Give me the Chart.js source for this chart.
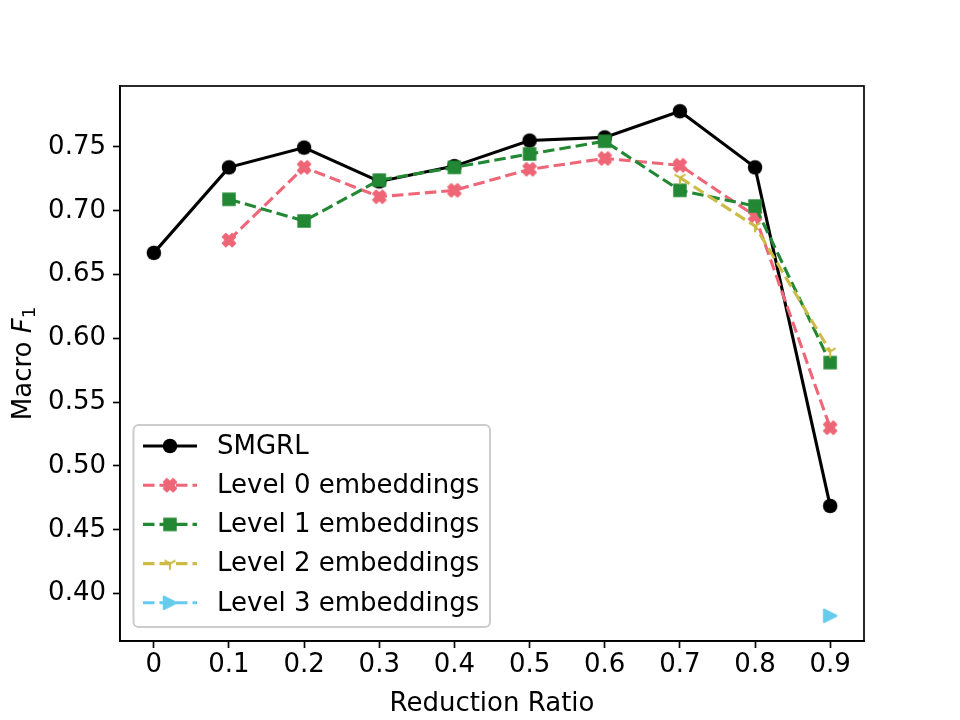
<!DOCTYPE html>
<html>
<head>
  <title>Macro F1 vs Reduction Ratio</title>
  <script src="https://cdn.jsdelivr.net/npm/chart.js"></script>
  <style>
    html, body { margin: 0; padding: 0; background: #fff; }
  </style>
</head>
<body>
  <canvas id="f1Chart" width="960" height="720"></canvas>

  <script>
    // values
    const ratios = [0, 0.1, 0.2, 0.3, 0.4, 0.5, 0.6, 0.7, 0.8, 0.9];
    const smgrl  = [0.667, 0.734, 0.7495, 0.723, 0.735, 0.755, 0.7575, 0.778, 0.734, 0.4687];
    const level0 = [null, 0.677, 0.734, 0.711, 0.716, 0.7325, 0.741, 0.7356, 0.696, 0.530];
    const level1 = [null, 0.709, 0.692, 0.724, 0.734, 0.7445, 0.7545, 0.716, 0.7037, 0.581];
    const level2 = [null, null, null, null, null, null, null, 0.726, 0.688, 0.5898];
    const level3 = [null, null, null, null, null, null, null, null, null, 0.3826];

    const seriesNames = ['SMGRL', 'Level 0 embeddings', 'Level 1 embeddings', 'Level 2 embeddings', 'Level 3 embeddings'];
    const xTicks = [0, 0.1, 0.2, 0.3, 0.4, 0.5, 0.6, 0.7, 0.8, 0.9];
    const yTicks = [0.40, 0.45, 0.50, 0.55, 0.60, 0.65, 0.70, 0.75];

    const FONT = '"DejaVu Sans", sans-serif';
    const FS = 26;
    const colors = ['#000000', '#EE6677', '#228833', '#CCBB44', '#66CCEE'];

    // matplotlib style 5% margins
    const allY = [].concat(smgrl, level0, level1, level2, level3).filter(v => v !== null);
    const yLo = Math.min(...allY), yHi = Math.max(...allY);
    const yPad = (yHi - yLo) * 0.05;
    const xPad = (ratios[ratios.length - 1] - ratios[0]) * 0.05;

    // marker sprites
    function sprite(draw) {
      const c = document.createElement('canvas');
      c.width = 22; c.height = 22;
      const g = c.getContext('2d');
      g.translate(11, 11);
      draw(g);
      return c;
    }
    const ms = 12.5;
    const markers = [
      sprite(g => { g.fillStyle = colors[0]; g.beginPath(); g.arc(0, 0, ms / 2 + 1, 0, Math.PI * 2); g.fill(); }),
      sprite(g => {
        const pts = [[-1,-2],[0,-1],[1,-2],[2,-1],[1,0],[2,1],[1,2],[0,1],[-1,2],[-2,1],[-1,0],[-2,-1]];
        g.beginPath();
        pts.forEach((p, i) => { const x = p[0] / 4 * ms, y = p[1] / 4 * ms; i ? g.lineTo(x, y) : g.moveTo(x, y); });
        g.closePath();
        g.fillStyle = colors[1]; g.strokeStyle = colors[1]; g.lineWidth = 2; g.lineJoin = 'round';
        g.fill(); g.stroke();
      }),
      sprite(g => { g.fillStyle = colors[2]; g.fillRect(-6.75, -6.75, 13.5, 13.5); }),
      sprite(g => {
        const r = ms / 2;
        g.strokeStyle = colors[3]; g.lineWidth = 2.1;
        g.beginPath();
        g.moveTo(0, 0); g.lineTo(0, r);
        g.moveTo(0, 0); g.lineTo(0.866 * r, -0.5 * r);
        g.moveTo(0, 0); g.lineTo(-0.866 * r, -0.5 * r);
        g.stroke();
      }),
      sprite(g => {
        const r = ms / 2;
        g.beginPath();
        g.moveTo(r, 0); g.lineTo(-r, -r); g.lineTo(-r, r); g.closePath();
        g.fillStyle = colors[4]; g.strokeStyle = colors[4]; g.lineWidth = 2; g.lineJoin = 'round';
        g.fill(); g.stroke();
      })
    ];

    const dash = [11.5, 5];
    const values = [smgrl, level0, level1, level2, level3];
    const datasets = values.map((vals, i) => ({
      label: seriesNames[i],
      data: ratios.map((r, j) => ({ x: r, y: vals[j] })),
      borderColor: colors[i],
      backgroundColor: colors[i],
      borderWidth: 3.1,
      borderDash: i === 0 ? [] : dash,
      pointStyle: markers[i],
      pointRadius: 7,
      pointHoverRadius: 7,
      tension: 0,
      spanGaps: false,
      order: 5 - i
    }));

    // frame, y label and legend drawn by hand to look like matplotlib
    const extras = {
      id: 'extras',
      afterDraw(chart) {
        const ctx = chart.ctx;
        const a = chart.chartArea;
        ctx.save();
        ctx.strokeStyle = '#000';
        ctx.lineWidth = 1.67;
        ctx.strokeRect(a.left, a.top, a.right - a.left, a.bottom - a.top);

        // y axis title: Macro F_1
        ctx.translate(24, (a.top + a.bottom) / 2);
        ctx.rotate(-Math.PI / 2);
        ctx.fillStyle = '#000';
        ctx.textBaseline = 'middle';
        ctx.font = FS + 'px ' + FONT;
        const w1 = ctx.measureText('Macro ').width;
        ctx.font = 'italic ' + FS + 'px ' + FONT;
        const w2 = ctx.measureText('F').width;
        ctx.font = (FS * 0.7) + 'px ' + FONT;
        const w3 = ctx.measureText('1').width;
        let x = -(w1 + w2 + w3) / 2;
        ctx.font = FS + 'px ' + FONT;
        ctx.fillText('Macro ', x, 0); x += w1;
        ctx.font = 'italic ' + FS + 'px ' + FONT;
        ctx.fillText('F', x, 0); x += w2;
        ctx.font = (FS * 0.7) + 'px ' + FONT;
        ctx.fillText('1', x, 6);
        ctx.restore();

        // legend
        ctx.save();
        const bx = 133.5, by = 425, bw = 356.5, bh = 202;
        ctx.beginPath();
        ctx.roundRect(bx, by, bw, bh, 5);
        ctx.fillStyle = 'rgba(255,255,255,0.8)';
        ctx.fill();
        ctx.strokeStyle = '#cccccc';
        ctx.lineWidth = 2;
        ctx.stroke();
        ctx.font = FS + 'px ' + FONT;
        ctx.textBaseline = 'middle';
        seriesNames.forEach((name, i) => {
          const y = 446 + i * 39.2;
          ctx.beginPath();
          ctx.setLineDash(i === 0 ? [] : dash);
          ctx.strokeStyle = colors[i];
          ctx.lineWidth = 3.1;
          ctx.moveTo(143, y);
          ctx.lineTo(197, y);
          ctx.stroke();
          ctx.setLineDash([]);
          ctx.drawImage(markers[i], 170 - 11, y - 11);
          ctx.fillStyle = '#000';
          ctx.fillText(name, 217, y + 1);
        });
        ctx.restore();
      }
    };

    new Chart(document.getElementById('f1Chart'), {
      type: 'line',
      data: { datasets: datasets },
      options: {
        responsive: false,
        animation: false,
        devicePixelRatio: 1,
        layout: { padding: { left: 0, top: 86, right: 96, bottom: 0 } },
        plugins: { legend: { display: false }, tooltip: { enabled: false } },
        scales: {
          x: {
            type: 'linear',
            min: ratios[0] - xPad,
            max: ratios[ratios.length - 1] + xPad,
            afterBuildTicks: s => { s.ticks = xTicks.map(v => ({ value: v })); },
            afterFit: s => { s.height = 79; },
            ticks: {
              color: '#000',
              font: { family: FONT, size: FS },
              padding: 2,
              maxRotation: 0,
              autoSkip: false,
              callback: v => v === 0 ? '0' : String(Math.round(v * 10) / 10)
            },
            grid: { drawOnChartArea: false, drawTicks: true, tickLength: 7, tickWidth: 1.67, tickColor: '#000' },
            border: { display: true, color: '#000', width: 1.67 },
            title: {
              display: true,
              text: 'Reduction Ratio',
              color: '#000',
              font: { family: FONT, size: FS },
              padding: { top: 0, bottom: 0 }
            }
          },
          y: {
            type: 'linear',
            min: yLo - yPad,
            max: yHi + yPad,
            afterBuildTicks: s => { s.ticks = yTicks.map(v => ({ value: v })); },
            afterFit: s => { s.width = 120; },
            ticks: {
              color: '#000',
              font: { family: FONT, size: FS },
              padding: 7,
              autoSkip: false,
              callback: v => v.toFixed(2)
            },
            grid: { drawOnChartArea: false, drawTicks: true, tickLength: 7, tickWidth: 1.67, tickColor: '#000' },
            border: { display: true, color: '#000', width: 1.67 }
          }
        }
      },
      plugins: [extras]
    });
  </script>
</body>
</html>
